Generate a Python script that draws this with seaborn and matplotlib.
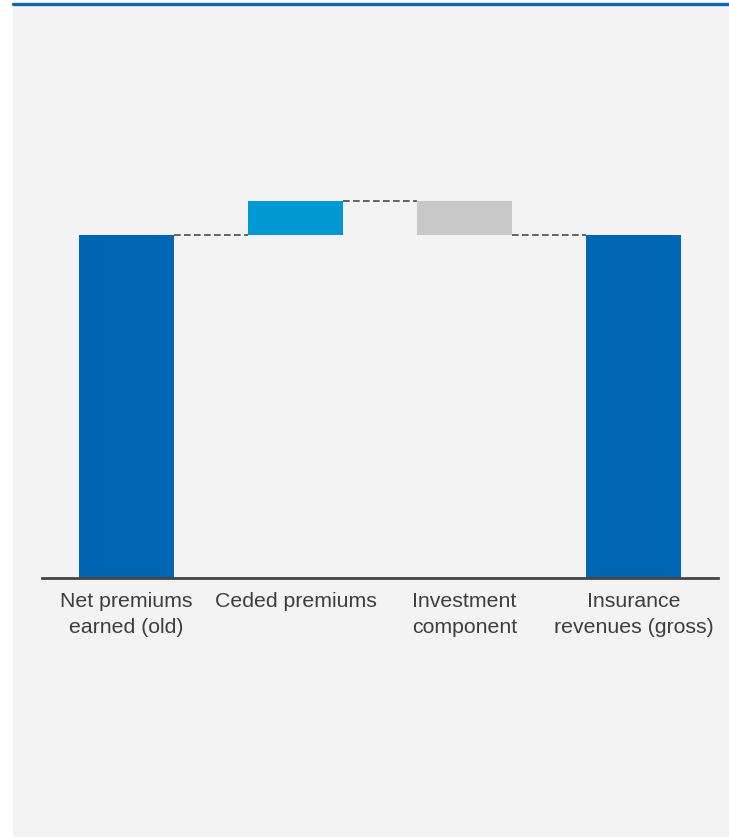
import matplotlib
matplotlib.use("Agg")
import matplotlib.pyplot as plt
import matplotlib.patches as mpatches
import matplotlib.lines as mlines
import seaborn as sns
import numpy as np

# Waterfall data (relative values)
categories = ["Net premiums\nearned (old)", "Ceded premiums", "Investment\ncomponent", "Insurance\nrevenues (gross)"]
changes = [100, 10, -10, 100]
kinds = ["total", "delta", "delta", "total"]
colors = ["#0066b3", "#0099d4", "#c8c8c8", "#0066b3"]

# running totals -> bottoms / heights
bottoms, heights, levels = [], [], []
running = 0
for c, k in zip(changes, kinds):
    if k == "total":
        bottoms.append(0)
        heights.append(c)
        running = c
    else:
        start = running
        running = running + c
        bottoms.append(min(start, running))
        heights.append(abs(c))
    levels.append(running)

sns.set_theme(style="white")
plt.rcParams["font.family"] = ["Liberation Sans", "DejaVu Sans"]

W, H = 729, 838
fig = plt.figure(figsize=(W / 100, H / 100), dpi=100, facecolor="white")

# grey panel and blue top rule
fig.patches.append(mpatches.Rectangle((13 / W, 1 / H), 1 - 13 / W, 1 - 4 / H,
                                      transform=fig.transFigure, facecolor="#f3f3f3",
                                      edgecolor="none", zorder=-10))
fig.lines.append(mlines.Line2D([13 / W, 1], [1 - 4.5 / H, 1 - 4.5 / H], transform=fig.transFigure,
                               color="#0a64b4", linewidth=2.4, zorder=-5))

ax = fig.add_axes([42 / W, (H - 578) / H, (718 - 42) / W, (578 - 40) / H])
ax.set_facecolor("none")

bar_w = 0.56
sns.barplot(x=categories, y=heights, bottom=bottoms, width=bar_w, errorbar=None,
            color=colors[0], saturation=1, ax=ax, zorder=2)
for patch, col in zip(ax.patches, colors):
    patch.set_facecolor(col)
    patch.set_edgecolor("none")

# dashed connectors
for i in range(len(categories) - 1):
    ax.plot([i + bar_w / 2, i + 1 - bar_w / 2], [levels[i], levels[i]],
            color="#4a4a4a", linestyle=(0, (4, 2)), linewidth=1.2, zorder=3)

ax.set_xlim(-0.5, 3.5)
ax.set_ylim(0, 538 / 343 * 100)
ax.set_yticks([])
ax.set_ylabel("")
for side in ["top", "right", "left"]:
    ax.spines[side].set_visible(False)
ax.spines["bottom"].set_color("#444444")
ax.spines["bottom"].set_linewidth(2)
ax.tick_params(axis="x", length=0, pad=10, labelsize=15.3, labelcolor="#3d3d3d")
for lbl in ax.get_xticklabels():
    lbl.set_linespacing(1.45)

fig.savefig("out.png", dpi=100)
